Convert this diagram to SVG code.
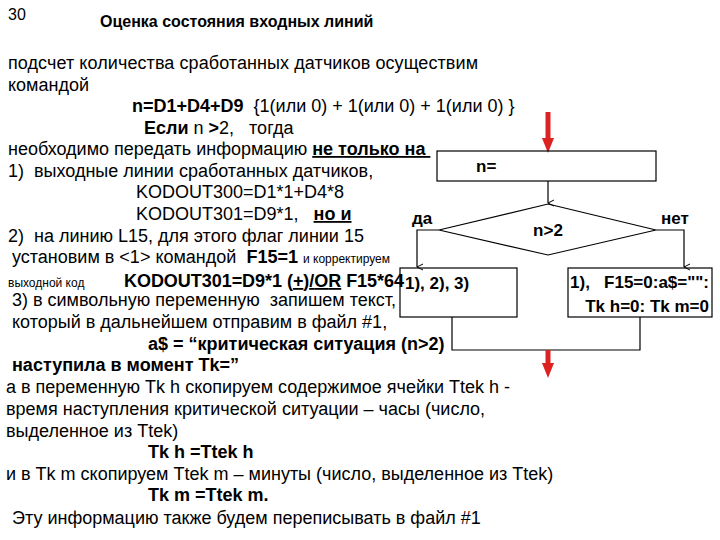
<svg xmlns="http://www.w3.org/2000/svg" width="720" height="540" viewBox="0 0 720 540">
<defs>
<style>
text{font-family:"Liberation Sans",Arial,sans-serif;font-size:18px;fill:#000;white-space:pre}
.b{font-weight:bold}
.s{font-size:12px}
.fc{font-family:"Liberation Sans",sans-serif;font-weight:bold;font-size:17px}
.ln{fill:none;stroke:#000;stroke-width:1.2}
</style>
<marker id="ah" markerWidth="8" markerHeight="8" refX="4" refY="7" orient="auto" markerUnits="userSpaceOnUse"><path d="M1,1 L4,7 L7,1" fill="none" stroke="#000"/></marker>
</defs>
<rect width="720" height="540" fill="#fff"/>
<text x="8" y="20" style="font-size:16px">30</text>
<text x="100" y="27" class="b" style="font-size:16px">Оценка состояния входных линий</text>
<text x="8" y="69" textLength="470">подсчет количества сработанных датчиков осуществим</text>
<text x="8" y="91">командой</text>
<text x="132" y="112"><tspan class="b">n=D1+D4+D9</tspan>  {1(или 0) + 1(или 0) + 1(или 0) }</text>
<text x="144" y="134"><tspan class="b">Если</tspan> n <tspan class="b">&gt;</tspan>2,   тогда</text>
<text x="8" y="155">необходимо передать информацию <tspan class="b" text-decoration="underline">не только на </tspan></text>
<text x="8" y="177">1)  выходные линии сработанных датчиков,</text>
<text x="136" y="198">KODOUT300=D1*1+D4*8</text>
<text x="136" y="220">KODOUT301=D9*1,   <tspan class="b" text-decoration="underline">но и</tspan></text>
<text x="8" y="242">2)  на линию L15, для этого флаг линии 15</text>
<text x="12" y="263">установим в &lt;1&gt; командой  <tspan class="b">F15=1</tspan> <tspan class="s">и корректируем</tspan></text>
<text x="8" y="287" class="s">выходной код</text>
<text x="124" y="287" class="b" textLength="280">KODOUT301=D9*1 <tspan text-decoration="underline">(+)/OR</tspan> F15*64</text>
<text x="12" y="306">3) в символьную переменную  запишем текст,</text>
<text x="12" y="328">который в дальнейшем отправим в файл #1,</text>
<text x="148" y="350" class="b">a$ = “критическая ситуация (n&gt;2)</text>
<text x="12" y="371" class="b">наступила в момент Tk=”</text>
<text x="6" y="393">а в переменную Tk h скопируем содержимое ячейки Ttek h -</text>
<text x="6" y="415">время наступления критической ситуации – часы (число,</text>
<text x="6" y="437">выделенное из Ttek)</text>
<text x="148" y="458" class="b">Tk h =Ttek h</text>
<text x="6" y="480">и в Tk m скопируем Ttek m – минуты (число, выделенное из Ttek)</text>
<text x="148" y="501" class="b">Tk m =Ttek m.</text>
<text x="12" y="524">Эту информацию также будем переписывать в файл #1</text>
<g id="connectors">
<path class="ln" d="M548,181 V203" marker-end="url(#ah)"/>
<path class="ln" d="M439,230 H417 V267" marker-end="url(#ah)"/>
<path class="ln" d="M656,230 H684 V267" marker-end="url(#ah)"/>
<path class="ln" d="M452,317 V350 H640 V317"/>
<path d="M548,112 V140" stroke="#d22" stroke-width="5"/>
<path d="M542,138 L548,153 L554,138 Z" fill="#d22"/>
<path d="M548,350 V365" stroke="#d22" stroke-width="5"/>
<path d="M542,363 L548,378 L554,363 Z" fill="#d22"/>
</g>
<g id="box-n">
<rect x="437" y="151" width="219" height="30" class="ln" fill="#fff"/>
<text x="476" y="172" class="fc">n=</text>
</g>
<g id="decision">
<path d="M548,204 L656,230 L548,255 L439,230 Z" class="ln" fill="#fff"/>
<text x="548" y="236" class="fc" text-anchor="middle">n&gt;2</text>
<text x="412" y="224" class="fc">да</text>
<text x="661" y="224" class="fc">нет</text>
</g>
<g id="box-yes">
<rect x="400" y="268" width="117" height="49" class="ln" fill="none"/>
<text x="405" y="289" class="fc">1), 2), 3)</text>
</g>
<g id="box-no">
<rect x="568" y="268" width="144" height="49" class="ln" fill="#fff"/>
<text x="709" y="288" class="fc" text-anchor="end">1),   F15=0:a$="":</text>
<text x="709" y="312" class="fc" text-anchor="end">Tk h=0: Tk m=0</text>
</g>
</svg>
